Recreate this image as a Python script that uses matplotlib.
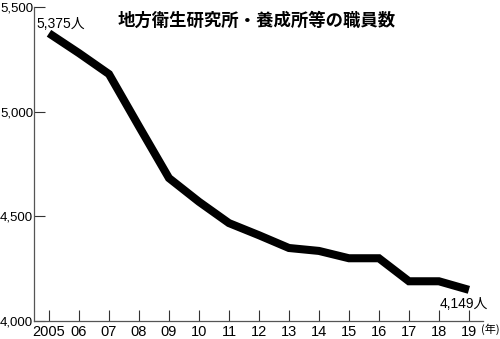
import numpy as np
import matplotlib.pyplot as plt

plt.rcParams['font.family'] = ['Liberation Sans', 'Noto Sans CJK JP']

years = [2005, 2006, 2007, 2008, 2009, 2010, 2011, 2012, 2013, 2014, 2015, 2016, 2017, 2018, 2019]
staff = [5375, 5280, 5180, 4930, 4683, 4570, 4468, 4410, 4349, 4335, 4300, 4300, 4190, 4190, 4149]
xlabels = ['2005', '06', '07', '08', '09', '10', '11', '12', '13', '14', '15', '16', '17', '18', '19']
yticks = [4000, 4500, 5000, 5500]
ylabels = ['4,000', '4,500', '5,000', '5,500']

fig = plt.figure(figsize=(5, 3.39), dpi=100)
ax = fig.add_axes([0.068, 0.053, 0.898, 0.926])

ax.plot(years, staff, color='black', lw=5.8, solid_capstyle='butt', solid_joinstyle='miter')

ax.set_xlim(2004.5, 2019.47)
ax.set_ylim(4000, 5500)
ax.set_xticks(years)
ax.set_xticklabels(xlabels, fontsize=10.5)
ax.set_yticks(yticks)
ax.set_yticklabels(ylabels, fontsize=9.5)
ax.tick_params(axis='both', direction='in', length=8, width=0.8, colors='#333333', labelcolor='black')
ax.tick_params(axis='x', pad=3)
ax.tick_params(axis='y', pad=0.5)
for s in ['top', 'right']:
    ax.spines[s].set_visible(False)
for s in ['left', 'bottom']:
    ax.spines[s].set_color('#555555')
    ax.spines[s].set_linewidth(0.9)

ax.annotate(f'{staff[0]:,}人', (years[0], staff[0]), xytext=(-9, 2), textcoords='offset points',
            fontsize=10, ha='left', va='bottom')
ax.annotate(f'{staff[-1]:,}人', (years[-1], staff[-1]), xytext=(14, -5), textcoords='offset points',
            fontsize=10, ha='right', va='top')
fig.text(0.963, 0.028, '(年)', fontsize=8, ha='left', va='center', family=['Noto Sans CJK JP'])

fig.text(0.236, 0.94, '地方衛生研究所・養成所等の職員数', fontsize=12.5, fontweight='bold',
         ha='left', va='center', family=['Noto Sans CJK JP'])

fig.savefig('out.png', dpi=100)
